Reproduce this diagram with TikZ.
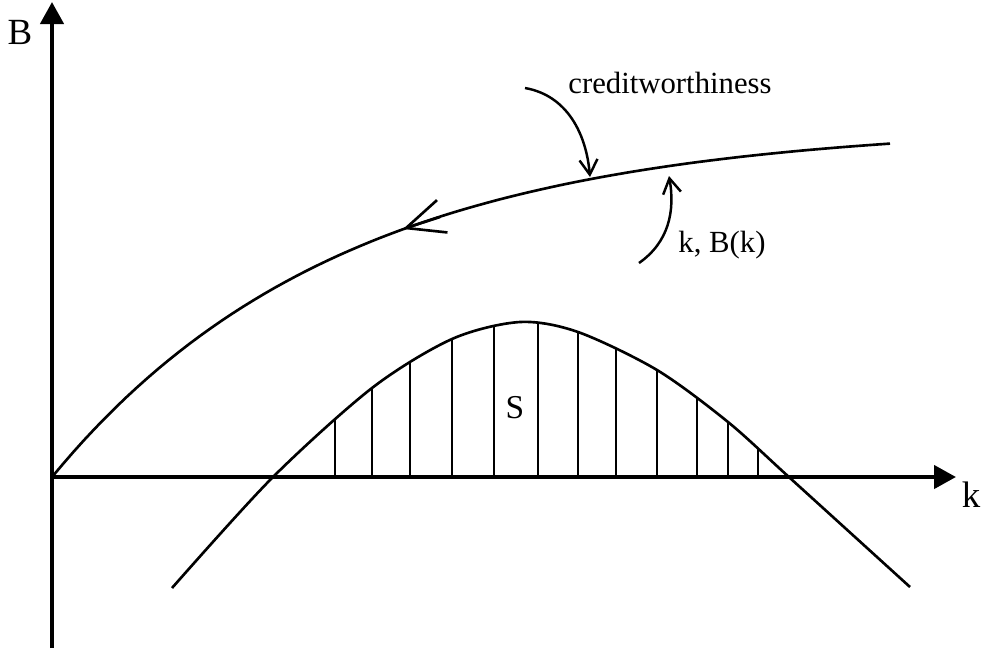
\documentclass[tikz,border=0pt]{standalone}
\usepackage{fontspec}
\setmainfont{Liberation Serif}
\usetikzlibrary{arrows.meta}
\begin{document}
\begin{tikzpicture}[
    x=0.02cm, y=-0.02cm,
    axis/.style={line width=2.5pt, -{Triangle[length=0.44cm, width=0.46cm]}},
    curve/.style={line width=1.5pt},
    hatch/.style={line width=1.1pt},
    pointer/.style={line width=1.4pt, -{Straight Barb[length=0.3cm, width=0.36cm]}},
    lbl/.style={font=\fontsize{17.5}{20}\selectfont, inner sep=0pt},
    axlbl/.style={font=\fontsize{21}{24}\selectfont, inner sep=0pt}
]
    \useasboundingbox (0,0) rectangle (984,654);
    % axes
    \coordinate (O) at (52,477);
    \coordinate (Bbot) at (52,648);
    \coordinate (Btop) at (52,2);
    \coordinate (kend) at (956,477);
    \draw[axis] (Bbot) -- (Btop);
    \draw[axis] (O) -- (kend);
    \node[axlbl] (Blab) at (20,32) {B};
    \node[axlbl] (klab) at (971,495) {k};
    % creditworthiness curve
    \draw[curve] plot[domain=52:890, samples=80] (\x, {477-353*(1-exp(-(\x-52)/290))});
    \coordinate (dfrom) at (440,217);
    \coordinate (dtip) at (403,229);
    \draw[curve, -{Straight Barb[length=0.76cm, width=0.68cm]}] (dfrom) -- (dtip);
    % hatched area S
    \begin{scope}
        \clip (52,477) rectangle (956,300);
        \clip plot[smooth] coordinates {(172,588) (272,478) (372,388) (452,339)
            (520,322) (578,332) (657,370) (728,422) (790,478) (910,587)} -- cycle;
        \foreach \hx in {335,372,410,452,494,538,578,616,657,697,728,758}
            \draw[hatch] (\hx,478) -- (\hx,300);
    \end{scope}
    \draw[curve] plot[smooth] coordinates {(172,588) (272,478) (372,388) (452,339)
        (520,322) (578,332) (657,370) (728,422) (790,478) (910,587)};
    \node[lbl, font=\fontsize{19}{22}\selectfont] (S) at (515,408) {S};
    % labels and pointers
    \node[lbl] (cw) at (670,83) {creditworthiness};
    \coordinate (cwfrom) at (525,88);
    \coordinate (cwtip) at (590,177);
    \draw[pointer] (cwfrom) to[out=-10, in=95] (cwtip);
    \node[lbl] (kb) at (722,245) {k, B(k)};
    \coordinate (kbfrom) at (639,263);
    \coordinate (kbtip) at (669,176);
    \draw[pointer] (kbfrom) to[out=35, in=-80] (kbtip);
\end{tikzpicture}
\end{document}
